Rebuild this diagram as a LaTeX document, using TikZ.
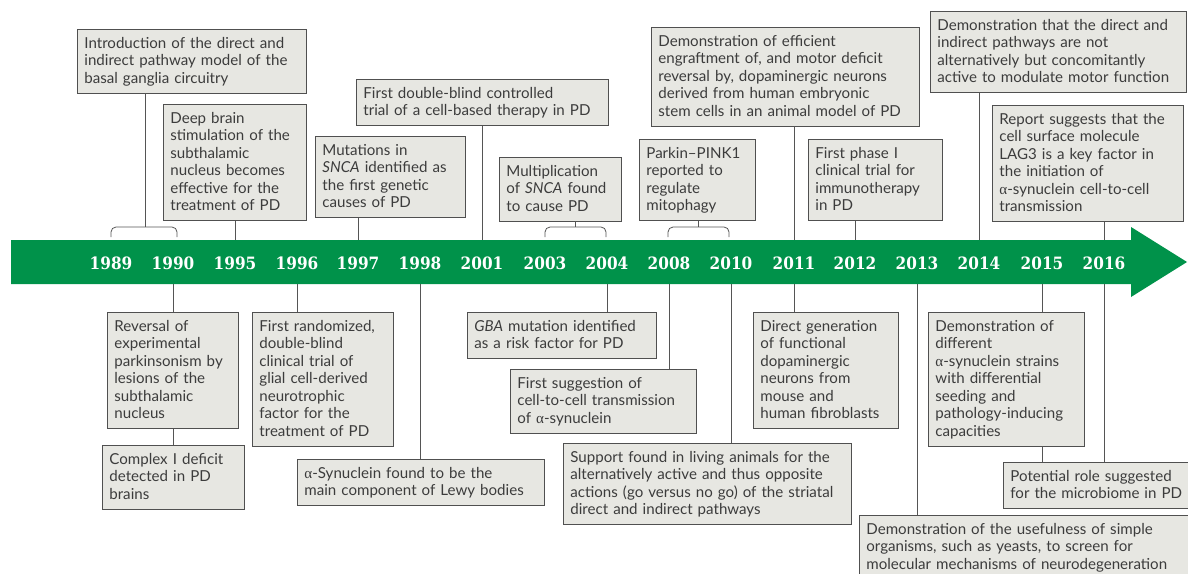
\documentclass[tikz,border=0pt]{standalone}
\usepackage{fontspec}
\setmainfont{Lato}
\newfontfamily\yearfont[FakeStretch=0.9]{DejaVu Serif}
\newfontfamily\grk{Liberation Serif}
\newcommand{\alf}{{\grk α}}
\definecolor{band}{RGB}{0,146,74}
\definecolor{boxfill}{RGB}{231,231,226}
\definecolor{boxline}{RGB}{80,80,80}
\definecolor{txt}{RGB}{60,60,60}
\definecolor{conline}{RGB}{85,85,85}
\tikzset{
  box/.style={draw=boxline, fill=boxfill, line width=0.8pt, inner xsep=7pt, inner ysep=5.5pt,
    anchor=north west, align=left, text=txt, font=\fontsize{15.1}{17.5}\selectfont,
    execute at begin node=\rule{0pt}{13.5pt}, execute at end node=\rule[-4pt]{0pt}{4pt}},
  conn/.style={draw=conline, line width=0.8pt},
  yr/.style={text=white, font=\yearfont\bfseries\fontsize{17}{18}\selectfont, inner sep=0pt}
}
\begin{document}
\begin{tikzpicture}[x=1pt,y=-1pt]
\useasboundingbox (0,0) rectangle (1188,573);
% band
\fill[band] (11,240) -- (1131,240) -- (1131,227) -- (1187,262) -- (1131,297) -- (1131,284) -- (11,284) -- cycle;
% year coordinates
\foreach \y/\x in {1989/111,1990/173,1995/235,1996/297,1997/358,1998/420,2001/482,2003/545,2004/607,2008/669,2010/731,2011/794,2012/855,2013/917,2014/979,2015/1042,2016/1104}{
  \node[yr] (y\y) at (\x,263) {\y};
  \coordinate (t\y) at (\x,240);
  \coordinate (b\y) at (\x,284);
}
% bracket coordinates
\coordinate (ka1) at (111,237); \coordinate (kb1) at (177,237); \coordinate (km1) at (145,227);
\coordinate (ka2) at (545,237); \coordinate (kb2) at (606,237); \coordinate (km2) at (575,227);
\coordinate (ka3) at (668,237); \coordinate (kb3) at (729,237); \coordinate (km3) at (698,227);

% top boxes
\node[box, text width=215pt] (n1) at (77,29) {Introduction of the direct and\\indirect pathway model of the\\basal ganglia circuitry};
\node[box, text width=129pt] (n2) at (163,104) {Deep brain\\stimulation of the\\subthalamic\\nucleus becomes\\effective for the\\treatment of PD};
\node[box, text width=136pt] (n3) at (315,136) {Mutations in\\\textit{SNCA} identified as\\the first genetic\\causes of PD};
\node[box, text width=238pt] (n4) at (356,79) {First double-blind controlled\\trial of a cell-based therapy in PD};
\node[box, text width=108pt] (n5) at (499,157) {Multiplication\\of \textit{SNCA} found\\to cause PD};
\node[box, text width=102pt] (n6) at (639,139) {Parkin--PINK1\\reported to\\regulate\\mitophagy};
\node[box, text width=254pt] (n7) at (651,27) {Demonstration of efficient\\engraftment of, and motor deficit\\reversal by, dopaminergic neurons\\derived from human embryonic\\stem cells in an animal model of PD};
\node[box, text width=120pt] (n8) at (808,139) {First phase I\\clinical trial for\\immunotherapy\\in PD};
\node[box, text width=242pt] (n9) at (930,11) {Demonstration that the direct and\\indirect pathways are not\\alternatively but concomitantly\\active to modulate motor function};
\node[box, text width=177pt] (n10) at (992,105) {Report suggests that the\\cell surface molecule\\LAG3 is a key factor in\\the initiation of\\\alf-synuclein cell-to-cell\\transmission};

% bottom boxes
\node[box, text width=117pt] (n11) at (107,312) {Reversal of\\experimental\\parkinsonism by\\lesions of the\\subthalamic\\nucleus};
\node[box, text width=128pt] (n12) at (102,445) {Complex I deficit\\detected in PD\\brains};
\node[box, text width=127pt] (n13) at (252,312) {First randomized,\\double-blind\\clinical trial of\\glial cell-derived\\neurotrophic\\factor for the\\treatment of PD};
\node[box, text width=233pt] (n14) at (297,459) {\alf-Synuclein found to be the\\main component of Lewy bodies};
\node[box, text width=175pt] (n15) at (467,312) {\textit{GBA} mutation identified\\as a risk factor for PD};
\node[box, text width=172pt] (n16) at (510,369) {First suggestion of\\cell-to-cell transmission\\of \alf-synuclein};
\node[box, text width=274pt] (n17) at (563,443) {Support found in living animals for the\\alternatively active and thus opposite\\actions (go versus no go) of the striatal\\direct and indirect pathways};
\node[box, text width=131pt] (n18) at (753,312) {Direct generation\\of functional\\dopaminergic\\neurons from\\mouse and\\human fibroblasts};
\node[box, text width=142pt] (n19) at (928,312) {Demonstration of\\different\\\alf-synuclein strains\\with differential\\seeding and\\pathology-inducing\\capacities};
\node[box, text width=200pt] (n20) at (1003,462) {Potential role suggested\\for the microbiome in PD};
\node[box, text width=330pt] (n21) at (859,515) {Demonstration of the usefulness of simple\\organisms, such as yeasts, to screen for\\molecular mechanisms of neurodegeneration};

% brackets
\draw[conn, rounded corners=5pt] (ka1) |- (km1) -| (kb1);
\draw[conn, rounded corners=5pt] (ka2) |- (km2) -| (kb2);
\draw[conn, rounded corners=5pt] (ka3) |- (km3) -| (kb3);

% top connectors
\draw[conn] (n1.south -| km1) -- (km1);
\draw[conn] (n2.south -| t1995) -- (t1995);
\draw[conn] (n3.south -| t1997) -- (t1997);
\draw[conn] (n4.south -| t2001) -- (t2001);
\draw[conn] (n5.south -| km2) -- (km2);
\draw[conn] (n6.south -| km3) -- (km3);
\draw[conn] (n7.south -| t2011) -- (t2011);
\draw[conn] (n8.south -| t2012) -- (t2012);
\draw[conn] (n9.south -| t2014) -- (t2014);
\draw[conn] (n10.south -| t2016) -- (t2016);

% bottom connectors
\draw[conn] (b1990) -- (n11.north -| b1990);
\draw[conn] (n11.south -| b1990) -- (n12.north -| b1990);
\draw[conn] (b1996) -- (n13.north -| b1996);
\draw[conn] (b1998) -- (n14.north -| b1998);
\draw[conn] (b2004) -- (n15.north -| b2004);
\draw[conn] (b2008) -- (n16.north -| b2008);
\draw[conn] (b2010) -- (n17.north -| b2010);
\draw[conn] (b2011) -- (n18.north -| b2011);
\draw[conn] (b2013) -- (n21.north -| b2013);
\draw[conn] (b2015) -- (n19.north -| b2015);
\draw[conn] (n19.south -| b2015) -- (n20.north -| b2015);
\draw[conn] (b2016) -- (n20.north -| b2016);
\end{tikzpicture}
\end{document}
